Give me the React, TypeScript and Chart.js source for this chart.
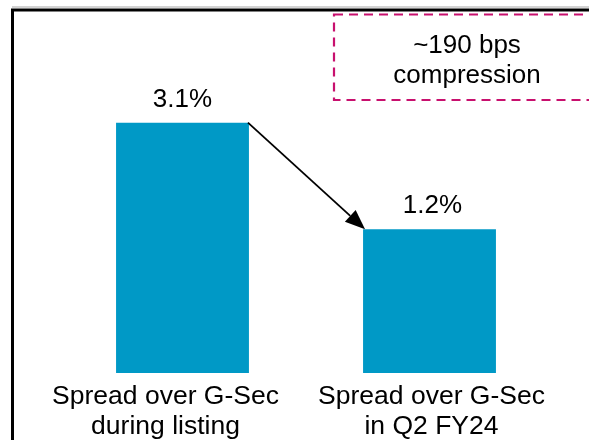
import React, { useEffect, useRef } from "react";
import { Chart, registerables } from "chart.js";

Chart.register(...registerables);

const categories: string[][] = [
  ["Spread over G-Sec", "during listing"],
  ["Spread over G-Sec", "in Q2 FY24"],
];
const values: number[] = [3.1, 1.2];
const valueLabels: string[] = ["3.1%", "1.2%"];
const calloutLines: string[] = ["~190 bps", "compression"];
const axisMin = -1.36;
const axisMax = 4.93;

const FONT = "'Liberation Sans', Arial, sans-serif";
const BAR_COLOR = "#0099C6";
const MAGENTA = "#C8106E";
// horizontal nudges of the category / value text boxes (as placed in the source)
const CAT_NUDGE = [-17, 2];
const VAL_NUDGE = [0, 3];

const decorPlugin = {
  id: "decor",
  afterDraw(chart: any) {
    const ctx = chart.ctx as CanvasRenderingContext2D;
    const area = chart.chartArea;
    const meta = chart.getDatasetMeta(0);
    ctx.save();

    // frame
    ctx.strokeStyle = "#c4c4c4";
    ctx.lineWidth = 1.5;
    ctx.beginPath();
    ctx.moveTo(12, 7);
    ctx.lineTo(chart.width, 7);
    ctx.stroke();
    ctx.strokeStyle = "#000";
    ctx.lineWidth = 3;
    ctx.beginPath();
    ctx.moveTo(12.5, chart.height);
    ctx.lineTo(12.5, 10);
    ctx.lineTo(chart.width, 10);
    ctx.stroke();

    // value labels & category labels
    ctx.fillStyle = "#000";
    ctx.textAlign = "center";
    ctx.textBaseline = "alphabetic";
    meta.data.forEach((el: any, i: number) => {
      ctx.font = `26px ${FONT}`;
      ctx.fillText(valueLabels[i], el.x + VAL_NUDGE[i], el.y - 16);
      ctx.font = `26.5px ${FONT}`;
      categories[i].forEach((line, j) => {
        ctx.fillText(line, el.x + CAT_NUDGE[i], area.bottom + 31 + j * 30);
      });
    });

    // arrow
    const b0 = meta.data[0];
    const b1 = meta.data[1];
    const sx = b0.x + b0.width / 2 - 1;
    const sy = b0.y;
    const tx = b1.x - b1.width / 2 + 2;
    const ty = b1.y;
    const ang = Math.atan2(ty - sy, tx - sx);
    const headLen = 20;
    const headHalf = 8;
    const bx = tx - headLen * Math.cos(ang);
    const by = ty - headLen * Math.sin(ang);
    ctx.strokeStyle = "#000";
    ctx.lineWidth = 1.8;
    ctx.beginPath();
    ctx.moveTo(sx, sy);
    ctx.lineTo(bx, by);
    ctx.stroke();
    ctx.fillStyle = "#000";
    ctx.beginPath();
    ctx.moveTo(tx, ty);
    ctx.lineTo(bx + headHalf * Math.sin(ang), by - headHalf * Math.cos(ang));
    ctx.lineTo(bx - headHalf * Math.sin(ang), by + headHalf * Math.cos(ang));
    ctx.closePath();
    ctx.fill();

    // callout box
    ctx.strokeStyle = MAGENTA;
    ctx.lineWidth = 2.2;
    ctx.setLineDash([9, 6]);
    ctx.strokeRect(334, 14.5, 268, 85.5);
    ctx.setLineDash([]);
    ctx.fillStyle = "#000";
    ctx.font = `26px ${FONT}`;
    calloutLines.forEach((line, j) => {
      ctx.fillText(line, 467, 53 + j * 30);
    });

    ctx.restore();
  },
};

export default function App() {
  const ref = useRef<HTMLCanvasElement | null>(null);

  useEffect(() => {
    if (!ref.current) return;
    const chart = new Chart(ref.current, {
      type: "bar",
      data: {
        labels: categories.map((c) => c.join(" ")),
        datasets: [
          {
            data: values,
            backgroundColor: BAR_COLOR,
            borderWidth: 0,
            base: axisMin,
            categoryPercentage: 1,
            barPercentage: 0.538,
          } as any,
        ],
      },
      options: {
        animation: false,
        responsive: true,
        maintainAspectRatio: false,
        layout: { padding: { left: 59, right: 36, top: 20, bottom: 67 } },
        plugins: {
          legend: { display: false },
          tooltip: { enabled: false },
        },
        scales: {
          x: { display: false },
          y: { display: false, min: axisMin, max: axisMax },
        },
      },
      plugins: [decorPlugin],
    });
    return () => chart.destroy();
  }, []);

  return (
    <div
      style={{
        position: "absolute",
        left: 0,
        top: 0,
        width: 589,
        height: 440,
        background: "#fff",
      }}
    >
      <canvas ref={ref} />
    </div>
  );
}
